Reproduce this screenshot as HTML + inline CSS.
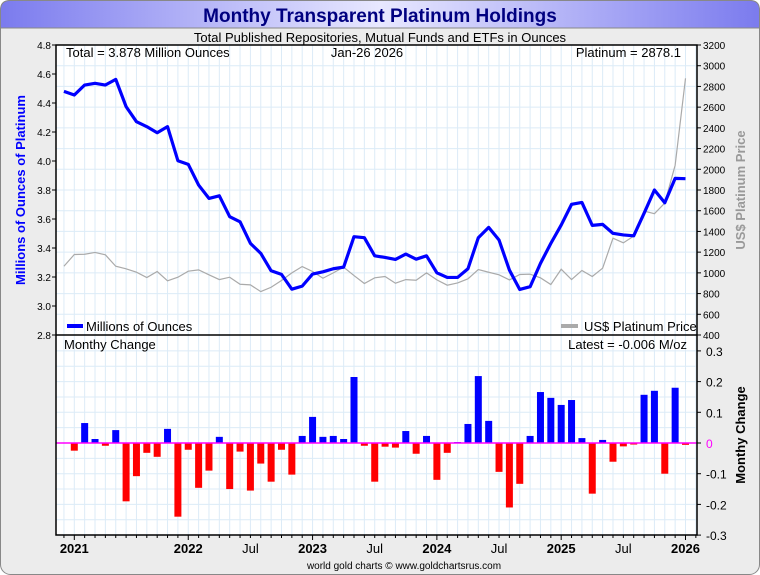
<!DOCTYPE html>
<html><head><meta charset="utf-8"><style>
body{margin:0;background:#fff;}
svg{display:block;font-family:"Liberation Sans",sans-serif;}
</style></head><body>
<svg id="c" width="760" height="575" xmlns="http://www.w3.org/2000/svg">
<defs>
<linearGradient id="tg" x1="0" x2="1" y1="0" y2="0">
<stop offset="0" stop-color="#7b7bee"/><stop offset="0.5" stop-color="#e8e8ff"/><stop offset="1" stop-color="#7b7bee"/>
</linearGradient>
</defs>
<rect x="0.5" y="0.5" width="759" height="574" rx="10" fill="#ececec" stroke="#888"/>
<path d="M0.5,28 V10 Q0.5,0.5 10,0.5 H750 Q759.5,0.5 759.5,10 V28 Z" fill="url(#tg)" stroke="#888"/>
<text x="380" y="22" text-anchor="middle" font-size="19" font-weight="bold" fill="#000080">Monthy Transparent Platinum Holdings</text>
<text x="380" y="42" text-anchor="middle" font-size="13" fill="#000">Total Published Repositories, Mutual Funds and ETFs in Ounces</text>
<g id="plot"></g>
<text x="404" y="569" text-anchor="middle" font-size="10" fill="#000">world gold charts © www.goldchartsrus.com</text>
</svg>
<script>
const holdings=[4.48,4.455,4.524,4.536,4.524,4.563,4.375,4.271,4.237,4.195,4.237,4.002,3.977,3.834,3.742,3.76,3.616,3.581,3.432,3.363,3.243,3.218,3.116,3.137,3.22,3.236,3.257,3.268,3.478,3.471,3.346,3.335,3.321,3.358,3.323,3.346,3.229,3.197,3.197,3.257,3.471,3.542,3.455,3.248,3.114,3.133,3.294,3.432,3.558,3.701,3.714,3.556,3.563,3.501,3.49,3.484,3.639,3.8,3.712,3.88,3.878];
const price=[1064,1177,1180,1197,1174,1064,1039,1006,955,1013,923,958,1016,1029,981,935,958,890,884,819,861,926,1000,1061,1013,948,1000,1055,974,897,952,965,900,935,929,1000,932,881,903,942,1032,1006,981,932,984,987,952,887,1035,935,1023,965,1045,1335,1290,1355,1597,1571,1674,2039,2878];
const changes=[-0.025,0.065,0.013,-0.009,0.042,-0.19,-0.108,-0.032,-0.045,0.046,-0.24,-0.022,-0.146,-0.09,0.02,-0.15,-0.028,-0.155,-0.067,-0.126,-0.022,-0.103,0.023,0.085,0.02,0.023,0.013,0.215,-0.009,-0.126,-0.012,-0.015,0.039,-0.035,0.023,-0.12,-0.032,0.003,0.062,0.218,0.072,-0.094,-0.21,-0.133,0.023,0.166,0.147,0.124,0.14,0.016,-0.165,0.01,-0.061,-0.011,-0.005,0.157,0.17,-0.1,0.18,-0.006];
const leftTicks=[4.8,4.6,4.4,4.2,4.0,3.8,3.6,3.4,3.2,3.0,2.8];
const rightTicks=[3200,3000,2800,2600,2400,2200,2000,1800,1600,1400,1200,1000,800,600,400];
const chgTicks=[0.3,0.2,0.1,0,-0.1,-0.2,-0.3];
const xLabels=[[0,"2021",1],[11,"2022",1],[17,"Jul",0],[23,"2023",1],[29,"Jul",0],[35,"2024",1],[41,"Jul",0],[47,"2025",1],[53,"Jul",0],[59,"2026",1]];
const yearIdx=[0,11,23,35,47,59];

const NS="http://www.w3.org/2000/svg";
const g=document.getElementById('plot');
function el(t,a,p){const e=document.createElementNS(NS,t);for(const k in a)e.setAttribute(k,a[k]);(p||g).appendChild(e);return e;}
const X0=56,X1=697,T0=45,T1=335,B1=535;
const xm=m=>74.3+m*(685.5-74.3)/59;
const xLine=i=>xm(i-1);
const yL=v=>T0+(4.8-v)/2.0*(T1-T0);
const yR=v=>T0+(3200-v)/2800*(T1-T0);
const yC=v=>443-v/0.1*30.7;

let e=el('rect',{x:X0,y:T0,width:X1-X0,height:B1-T0,fill:'#fff'});

for(let m=-2;m<=61;m++){const x=xm(m);if(x<=X0||x>=X1)continue;
 e=el('line',{x1:x,x2:x,y1:T0,y2:B1,stroke:'#dcebf7','stroke-width':1});
 }
rightTicks.forEach(v=>{e=el('line',{x1:X0,x2:X1,y1:yR(v),y2:yR(v),stroke:'#dcebf7'});
 });
for(let v=-0.3;v<=0.3001;v+=0.05){e=el('line',{x1:X0,x2:X1,y1:yC(v),y2:yC(v),stroke:'#dcebf7'});
 }
e=el('polyline',{points:price.map((v,i)=>xLine(i)+','+yR(v)).join(' '),fill:'none',stroke:'#aaa','stroke-width':1.2});

e=el('polyline',{points:holdings.map((v,i)=>xLine(i)+','+yL(v)).join(' '),fill:'none',stroke:'#0000ff','stroke-width':3.2,'stroke-linejoin':'round'});

changes.forEach((v,i)=>{const x=xm(i)-3.5,y0=yC(0),y=yC(v);
 e=el('rect',{x:x,y:Math.min(y,y0),width:7,height:Math.max(1,Math.abs(y-y0)),fill:v>=0?'#0000ff':'#ff0000'});
 });
e=el('line',{x1:X0,x2:X1,y1:yC(0),y2:yC(0),stroke:'#ff00ff','stroke-width':1.5});

e=el('rect',{x:X0,y:T0,width:X1-X0,height:B1-T0,fill:'none',stroke:'#000','stroke-width':1.5});

e=el('line',{x1:X0,x2:X1,y1:T1,y2:T1,stroke:'#000','stroke-width':1.5});

function txt(x,y,s,o,name){const t=el('text',Object.assign({x:x,y:y,'font-size':11,fill:'#000'},o||{}));t.textContent=s;
 return t;}
leftTicks.forEach(v=>{txt(51,yL(v)+4,v.toFixed(1),{'text-anchor':'end','font-size':10},'left-tick-label');
 e=el('line',{x1:X0-4,x2:X0,y1:yL(v),y2:yL(v),stroke:'#000'});});
rightTicks.forEach(v=>{txt(703,yR(v)+4,String(v),{'font-size':10},'right-tick-label');
 e=el('line',{x1:X1,x2:X1+4,y1:yR(v),y2:yR(v),stroke:'#000'});});
chgTicks.forEach(v=>{txt(706,yC(v)+5,v===0?'0':String(v),{'font-size':12,fill:v===0?'#ff00ff':'#000'},'change-tick-label');
 e=el('line',{x1:X1,x2:X1+4,y1:yC(v),y2:yC(v),stroke:'#000'});});
for(let m=-1;m<=60;m++){const x=xm(m);if(x<X0||x>X1)continue;
 e=el('line',{x1:x,x2:x,y1:B1,y2:B1+(yearIdx.includes(m)?5:3),stroke:'#000'});}
xLabels.forEach(l=>txt(xm(l[0]),553,l[1],{'text-anchor':'middle','font-size':13,'font-weight':l[2]?'bold':'normal'},'x-tick-label'));
txt(66,57,'Total = 3.878 Million Ounces',{'font-size':13},'total-annotation');
txt(367,57,'Jan-26  2026',{'font-size':13,'text-anchor':'middle'},'date-annotation');
txt(681,57,'Platinum = 2878.1',{'font-size':13,'text-anchor':'end'},'price-annotation');
txt(64,349,'Monthy Change',{'font-size':13},'lower-panel-label');
txt(687,349,'Latest = -0.006 M/oz',{'font-size':13,'text-anchor':'end'},'latest-annotation');
e=el('line',{x1:67,x2:83,y1:326,y2:326,stroke:'#0000ff','stroke-width':4});
txt(86,331,'Millions of Ounces',{'font-size':13},'legend-holdings-label');
e=el('line',{x1:561,x2:578,y1:326,y2:326,stroke:'#aaa','stroke-width':4});
txt(584,331,'US$ Platinum Price',{'font-size':13},'legend-price-label');
txt(0,0,'Millions of Ounces of Platinum',{'font-size':13,'font-weight':'bold',fill:'#0000ff','text-anchor':'middle',transform:'translate(25,190) rotate(-90)'},'left-axis-title');
txt(0,0,'US$ Platinum Price',{'font-size':13,'font-weight':'bold',fill:'#999','text-anchor':'middle',transform:'translate(745,190) rotate(-90)'},'right-axis-title');
txt(0,0,'Monthy Change',{'font-size':13,'font-weight':'bold',fill:'#000','text-anchor':'middle',transform:'translate(745,435) rotate(-90)'},'change-axis-title');
</script>
</body></html>
